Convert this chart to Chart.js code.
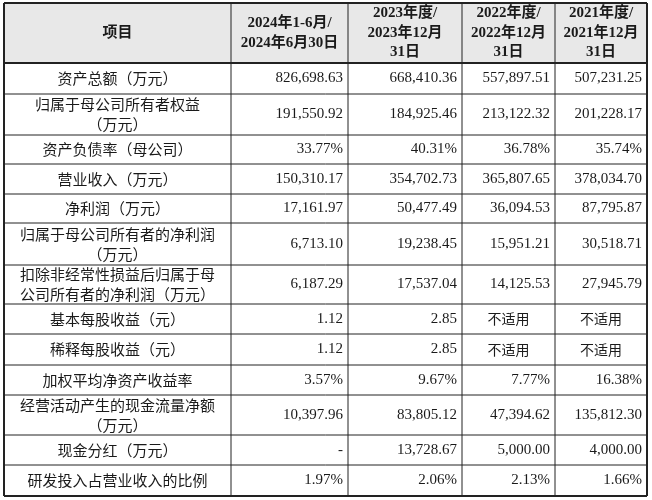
<!DOCTYPE html>
<html><head><meta charset="utf-8">
<script src="https://cdn.jsdelivr.net/npm/chart.js@4"></script>
<style>html,body{margin:0;padding:0;background:#fff}#c{display:block}</style>
</head><body>
<div style="width:652px;height:500px"><canvas id="c"></canvas></div>
<script>
const headers = ["项目", "2024年1-6月/\n2024年6月30日", "2023年度/\n2023年12月\n31日", "2022年度/\n2022年12月\n31日", "2021年度/\n2021年12月\n31日"];
const categories = ["资产总额（万元）", "归属于母公司所有者权益\n（万元）", "资产负债率（母公司）", "营业收入（万元）", "净利润（万元）", "归属于母公司所有者的净利润\n（万元）", "扣除非经常性损益后归属于母\n公司所有者的净利润（万元）", "基本每股收益（元）", "稀释每股收益（元）", "加权平均净资产收益率", "经营活动产生的现金流量净额\n（万元）", "现金分红（万元）", "研发投入占营业收入的比例"];
const isPct = [false,false,true,false,false,false,false,false,false,true,false,false,true];
const v2024 = [826698.63, 191550.92, 33.77, 150310.17, 17161.97, 6713.10, 6187.29, 1.12, 1.12, 3.57, 10397.96, null, 1.97];
const v2023 = [668410.36, 184925.46, 40.31, 354702.73, 50477.49, 19238.45, 17537.04, 2.85, 2.85, 9.67, 83805.12, 13728.67, 2.06];
const v2022 = [557897.51, 213122.32, 36.78, 365807.65, 36094.53, 15951.21, 14125.53, "不适用", "不适用", 7.77, 47394.62, 5000.00, 2.13];
const v2021 = [507231.25, 201228.17, 35.74, 378034.70, 87795.87, 30518.71, 27945.79, "不适用", "不适用", 16.38, 135812.30, 4000.00, 1.66];
const series = [v2024, v2023, v2022, v2021];
const colUnits = [227, 117, 114, 93, 92];
const rowUnits = [60, 31, 41, 29, 30, 29, 42, 39, 30, 31, 30, 40, 30, 31];

const colEdges = [0]; colUnits.forEach(u => colEdges.push(colEdges[colEdges.length-1] + u));
const rowEdges = [0]; rowUnits.forEach(u => rowEdges.push(rowEdges[rowEdges.length-1] + u));

function fmt(v, pct) {
  if (v === null) return "-";
  if (typeof v === "string") return v;
  const s = v.toLocaleString("en-US", {minimumFractionDigits: 2, maximumFractionDigits: 2});
  return pct ? s + "%" : s;
}
const CJK = '"Noto Sans CJK SC", sans-serif';
const NUM = '"Liberation Serif", serif';

const tablePlugin = {
  id: 'table',
  afterDraw(chart) {
    const ctx = chart.ctx, xs = chart.scales.x, ys = chart.scales.y;
    const X = v => xs.getPixelForValue(v), Y = v => ys.getPixelForValue(v);
    ctx.save();
    ctx.fillStyle = '#e8e8e8';
    ctx.fillRect(X(0), Y(0), X(colEdges[5]) - X(0), Y(rowEdges[1]) - Y(0));
    ctx.strokeStyle = '#222'; ctx.lineWidth = 1;
    rowEdges.forEach((r, i) => {
      ctx.lineWidth = (i === 0 || i === 1 || i === rowEdges.length-1) ? 2 : 1;
      ctx.beginPath(); ctx.moveTo(X(0), Y(r)); ctx.lineTo(X(colEdges[5]), Y(r)); ctx.stroke();
    });
    colEdges.forEach((c, i) => {
      ctx.lineWidth = (i === 0 || i === colEdges.length-1) ? 2 : 1;
      ctx.beginPath(); ctx.moveTo(X(c), Y(0)); ctx.lineTo(X(c), Y(rowEdges[rowEdges.length-1])); ctx.stroke();
    });
    ctx.fillStyle = '#1a1a1a'; ctx.textBaseline = 'middle';
    headers.forEach((h, i) => {
      const lines = h.split("\n");
      const cx = (X(colEdges[i]) + X(colEdges[i+1])) / 2, cy = (Y(0) + Y(rowEdges[1])) / 2;
      ctx.textAlign = 'center';
      ctx.font = 'bold 15px ' + NUM + ',' + CJK;
      lines.forEach((l, k) => ctx.fillText(l, cx, cy + (k - (lines.length-1)/2) * 19.5));
    });
    categories.forEach((c, r) => {
      const y0 = Y(rowEdges[r+1]), y1 = Y(rowEdges[r+2]), cy = (y0 + y1) / 2;
      const lines = c.split("\n");
      ctx.font = '15px ' + CJK; ctx.textAlign = 'center';
      const cx = (X(colEdges[0]) + X(colEdges[1])) / 2;
      lines.forEach((l, k) => ctx.fillText(l, cx, cy + (k - (lines.length-1)/2) * 20));
      series.forEach((s, j) => {
        const v = s[r], t = fmt(v, isPct[r]);
        if (typeof v === "string") {
          ctx.font = '14px ' + CJK; ctx.textAlign = 'center';
          ctx.fillText(t, (X(colEdges[j+1]) + X(colEdges[j+2])) / 2, cy);
        } else {
          ctx.font = '15px ' + NUM; ctx.textAlign = 'right';
          ctx.fillText(t, X(colEdges[j+2]) - 5, cy);
        }
      });
    });
    ctx.restore();
  }
};

new Chart(document.getElementById('c'), {
  type: 'scatter',
  data: { datasets: [{ data: [] }] },
  options: {
    responsive: true, maintainAspectRatio: false, animation: false,
    layout: { padding: { left: 4, right: 5, top: 3, bottom: 4 } },
    plugins: { legend: { display: false }, tooltip: { enabled: false } },
    scales: {
      x: { type: 'linear', display: false, min: 0, max: colEdges[colEdges.length-1] },
      y: { type: 'linear', display: false, reverse: true, min: 0, max: rowEdges[rowEdges.length-1] }
    }
  },
  plugins: [tablePlugin]
});
</script>
</body></html>
